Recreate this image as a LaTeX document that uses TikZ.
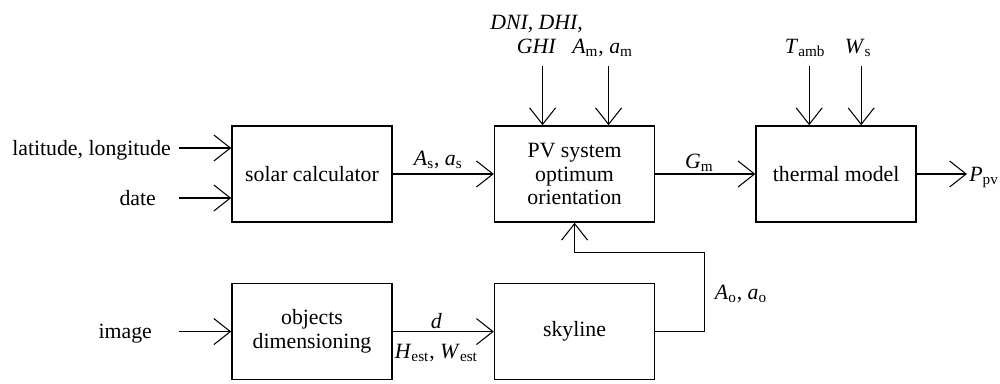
\documentclass[tikz,border=0pt]{standalone}
\usepackage{fontspec}
\setmainfont{Liberation Serif}
\usetikzlibrary{arrows.meta, positioning}
\newcommand{\quant}[2]{\textit{#1}\textsubscript{#2}}

\begin{document}
\begin{tikzpicture}[
      node distance=1.2cm and 2.02cm,
      font=\fontsize{12.4}{13.6}\selectfont,
      box/.style={draw, line width=0.9pt, align=center, minimum width=3.2cm,
                  minimum height=1.92cm, inner sep=2pt},
      lbl/.style={inner sep=0pt, text depth=0pt, align=center},
      arr/.style={-{Straight Barb[length=0.33cm, width=0.52cm]}, line width=0.6pt}
    ]
    \useasboundingbox (0,0) rectangle (20,-7.68);

    \node[box] (solar) at (6.24,-3.48) {solar calculator};
    \node[box, right=of solar] (pv) {PV system\\optimum\\orientation};
    \node[box, right=2cm of pv] (thermal) {thermal model};
    \node[box, below=of solar] (objdim) {objects\\dimensioning};
    \node[box, below=of pv] (sky) {skyline};

    % inputs on the left
    \coordinate (latin) at ([xshift=-1.04cm, yshift=0.52cm]solar.west);
    \coordinate (datein) at ([xshift=-1.04cm, yshift=-0.48cm]solar.west);
    \coordinate (imgin) at ([xshift=-1.04cm]objdim.west);
    \node[lbl, left=0.16cm of latin] (lat) {latitude, longitude};
    \node[lbl, left=0.46cm of datein] (date) {date};
    \node[lbl, left=0.54cm of imgin] (img) {image};
    \draw[arr] (latin) -- (latin -| solar.west);
    \draw[arr] (datein) -- (datein -| solar.west);
    \draw[arr] (imgin) -- (objdim.west);

    % inputs from above
    \coordinate (irrin) at ([xshift=-0.64cm, yshift=1.18cm]pv.north);
    \coordinate (angin) at ([xshift=0.68cm, yshift=1.18cm]pv.north);
    \coordinate (tambin) at ([xshift=-0.54cm, yshift=1.18cm]thermal.north);
    \coordinate (wsin) at ([xshift=0.5cm, yshift=1.18cm]thermal.north);
    \node[lbl, above=0.25cm of irrin, xshift=-0.12cm] (irr) {\textit{DNI, DHI,}\\\textit{GHI}};
    \node[lbl, above=0.25cm of angin, xshift=-0.12cm] (mang) {\quant{A}{m}, \quant{a}{m}};
    \node[lbl, above=0.25cm of tambin, xshift=-0.08cm] (tamb) {\quant{T}{amb}};
    \node[lbl, above=0.25cm of wsin, xshift=-0.06cm] (ws) {\quant{W}{s}};
    \draw[arr] (irrin) -- (irrin |- pv.north);
    \draw[arr] (angin) -- (angin |- pv.north);
    \draw[arr] (tambin) -- (tambin |- thermal.north);
    \draw[arr] (wsin) -- (wsin |- thermal.north);

    % main chain
    \draw[arr] (solar) -- node[lbl, above=0.16cm, xshift=-0.1cm] {\quant{A}{s}, \quant{a}{s}} (pv);
    \draw[arr] (pv) -- node[lbl, above=0.1cm, xshift=-0.12cm] {\quant{G}{m}} (thermal);
    \coordinate (pout) at ([xshift=1cm]thermal.east);
    \node[lbl, right=0.04cm of pout] (ppv) {\quant{P}{pv}};
    \draw[arr] (thermal) -- (pout);

    % lower branch
    \draw[arr] (objdim) -- node[lbl, above=0.06cm, xshift=-0.14cm] {\textit{d}}
      node[lbl, below=0.24cm, xshift=-0.14cm] {\quant{H}{est}, \quant{W}{est}} (sky);
    \coordinate (fbk) at ([yshift=-0.6cm]pv.south);
    \draw[arr] (sky.east) -- ++(0.98cm,0) |- node[lbl, pos=0.25, right=0.2cm] {\quant{A}{o}, \quant{a}{o}} (fbk) -- (pv.south);
  \end{tikzpicture}
\end{document}
